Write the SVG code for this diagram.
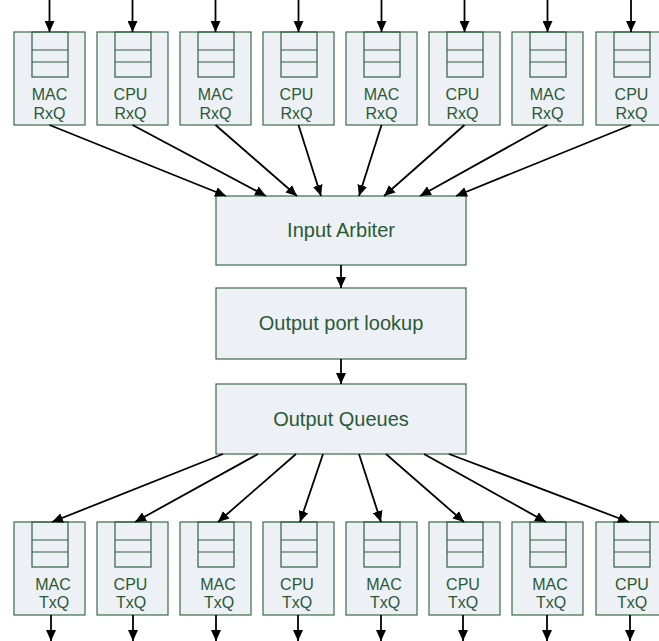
<svg xmlns="http://www.w3.org/2000/svg" width="659" height="641" viewBox="0 0 659 641">
<style>
.box{fill:#EDF0F5;stroke:#3A6B4A;stroke-width:1.2}
.q{fill:none;stroke:#2F6040;stroke-width:1.2}
.t{font-family:"Liberation Sans",Arial,sans-serif;fill:#2A5A35;text-anchor:middle}
.s{font-size:16px}
.b{font-size:20px}
.c{stroke:#000;stroke-width:1.8;fill:none;marker-end:url(#ah)}
</style>
<defs>
<marker id="ah" markerUnits="userSpaceOnUse" markerWidth="12" markerHeight="10" refX="11" refY="5" orient="auto">
<path d="M0,0 L11,5 L0,10 z" fill="#000"/>
</marker>
<g id="queue">
<rect class="box" x="0" y="0" width="71" height="93"/>
<rect class="q" x="18" y="0" width="36" height="45"/>
<line class="q" x1="18" y1="18" x2="54" y2="18"/>
<line class="q" x1="18" y1="30" x2="54" y2="30"/>
</g>
</defs>
<rect width="659" height="641" fill="#fff"/>

<g id="rx0"><use href="#queue" x="14" y="32"/><text class="t s" x="49.5" y="100">MAC</text><text class="t s" x="49.5" y="119">RxQ</text></g>
<g id="rx1"><use href="#queue" x="97" y="32"/><text class="t s" x="130.5" y="100">CPU</text><text class="t s" x="130.5" y="119">RxQ</text></g>
<g id="rx2"><use href="#queue" x="180" y="32"/><text class="t s" x="215.5" y="100">MAC</text><text class="t s" x="215.5" y="119">RxQ</text></g>
<g id="rx3"><use href="#queue" x="263" y="32"/><text class="t s" x="296.5" y="100">CPU</text><text class="t s" x="296.5" y="119">RxQ</text></g>
<g id="rx4"><use href="#queue" x="346" y="32"/><text class="t s" x="381.5" y="100">MAC</text><text class="t s" x="381.5" y="119">RxQ</text></g>
<g id="rx5"><use href="#queue" x="429" y="32"/><text class="t s" x="462.5" y="100">CPU</text><text class="t s" x="462.5" y="119">RxQ</text></g>
<g id="rx6"><use href="#queue" x="512" y="32"/><text class="t s" x="547.5" y="100">MAC</text><text class="t s" x="547.5" y="119">RxQ</text></g>
<g id="rx7"><use href="#queue" x="596" y="32"/><text class="t s" x="631.5" y="100">CPU</text><text class="t s" x="631.5" y="119">RxQ</text></g>

<g id="arbiter"><rect class="box" x="216" y="196" width="250" height="69"/><text class="t b" x="341" y="237">Input Arbiter</text></g>
<g id="lookup"><rect class="box" x="216" y="288" width="250" height="71"/><text class="t b" x="341" y="330">Output port lookup</text></g>
<g id="oq"><rect class="box" x="216" y="384" width="250" height="70"/><text class="t b" x="341" y="426">Output Queues</text></g>

<g id="tx0"><use href="#queue" x="14" y="522"/><text class="t s" x="53" y="590">MAC</text><text class="t s" x="54" y="608">TxQ</text></g>
<g id="tx1"><use href="#queue" x="97" y="522"/><text class="t s" x="130.5" y="590">CPU</text><text class="t s" x="131" y="608">TxQ</text></g>
<g id="tx2"><use href="#queue" x="180" y="522"/><text class="t s" x="218" y="590">MAC</text><text class="t s" x="219" y="608">TxQ</text></g>
<g id="tx3"><use href="#queue" x="263" y="522"/><text class="t s" x="297" y="590">CPU</text><text class="t s" x="297" y="608">TxQ</text></g>
<g id="tx4"><use href="#queue" x="346" y="522"/><text class="t s" x="384" y="590">MAC</text><text class="t s" x="385" y="608">TxQ</text></g>
<g id="tx5"><use href="#queue" x="429" y="522"/><text class="t s" x="463" y="590">CPU</text><text class="t s" x="463" y="608">TxQ</text></g>
<g id="tx6"><use href="#queue" x="512" y="522"/><text class="t s" x="550" y="590">MAC</text><text class="t s" x="551" y="608">TxQ</text></g>
<g id="tx7"><use href="#queue" x="596" y="522"/><text class="t s" x="632" y="590">CPU</text><text class="t s" x="632" y="608">TxQ</text></g>

<g id="connectors">
<line class="c" x1="49.5" y1="0" x2="49.5" y2="32"/>
<line class="c" x1="132.5" y1="0" x2="132.5" y2="32"/>
<line class="c" x1="215.5" y1="0" x2="215.5" y2="32"/>
<line class="c" x1="298.5" y1="0" x2="298.5" y2="32"/>
<line class="c" x1="381.5" y1="0" x2="381.5" y2="32"/>
<line class="c" x1="464.5" y1="0" x2="464.5" y2="32"/>
<line class="c" x1="547.5" y1="0" x2="547.5" y2="32"/>
<line class="c" x1="631" y1="0" x2="631" y2="32"/>

<line class="c" x1="49.5" y1="125" x2="226" y2="196"/>
<line class="c" x1="132.5" y1="125" x2="266" y2="196"/>
<line class="c" x1="215.5" y1="125" x2="297" y2="196"/>
<line class="c" x1="298.5" y1="125" x2="321" y2="196"/>
<line class="c" x1="381.5" y1="125" x2="359" y2="196"/>
<line class="c" x1="464.5" y1="125" x2="384" y2="196"/>
<line class="c" x1="547.5" y1="125" x2="420" y2="196"/>
<line class="c" x1="631" y1="125" x2="456" y2="196"/>

<line class="c" x1="341" y1="265" x2="341" y2="288"/>
<line class="c" x1="341" y1="359" x2="341" y2="384"/>

<line class="c" x1="223" y1="454" x2="52" y2="522"/>
<line class="c" x1="258" y1="454" x2="135" y2="522"/>
<line class="c" x1="296" y1="454" x2="218" y2="522"/>
<line class="c" x1="323" y1="454" x2="300" y2="522"/>
<line class="c" x1="359" y1="454" x2="381" y2="522"/>
<line class="c" x1="386" y1="454" x2="464" y2="522"/>
<line class="c" x1="424" y1="454" x2="546" y2="522"/>
<line class="c" x1="449" y1="454" x2="629" y2="522"/>

<line class="c" x1="51" y1="615" x2="51" y2="641"/>
<line class="c" x1="133" y1="615" x2="133" y2="641"/>
<line class="c" x1="216" y1="615" x2="216" y2="641"/>
<line class="c" x1="298" y1="615" x2="298" y2="641"/>
<line class="c" x1="381" y1="615" x2="381" y2="641"/>
<line class="c" x1="463" y1="615" x2="463" y2="641"/>
<line class="c" x1="547" y1="615" x2="547" y2="641"/>
<line class="c" x1="630" y1="615" x2="630" y2="641"/>
</g>
</svg>
